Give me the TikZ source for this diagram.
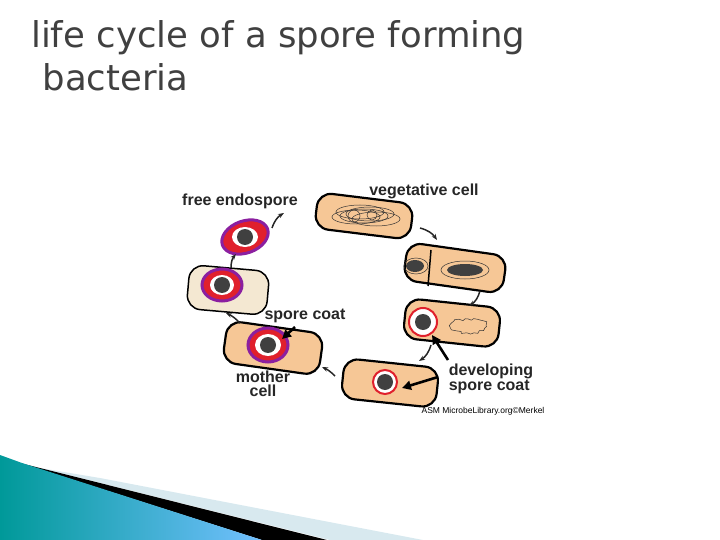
\documentclass[tikz,border=0pt]{standalone}
\usepackage{fontspec}
\setmainfont{DejaVu Sans}
\newfontfamily\lab{Liberation Sans}
\usetikzlibrary{arrows.meta,decorations.pathmorphing}
\begin{document}
\begin{tikzpicture}[x=1pt,y=-1pt,
  cellbox/.style={draw=black,line width=2.2pt,fill=tanc,rounded corners=14pt,minimum width=#1,minimum height=38pt,inner sep=0pt},
  lbl/.style={font=\lab\bfseries\fontsize{16}{14.5}\selectfont,text=black!85,align=left,inner sep=1pt},
  cyc/.style={-{Stealth[length=6pt]},line width=1.5pt,black!85},
  big/.style={-{Triangle[length=9pt,width=9pt]},line width=2.6pt,black},
  nuc/.style={draw=black!80,line width=0.5pt}]
\definecolor{tanc}{HTML}{F6C796}
\definecolor{palec}{HTML}{F4E8D2}
\definecolor{ttl}{HTML}{404040}
\definecolor{purp}{HTML}{8B1FA0}
\definecolor{redc}{HTML}{E0202C}
\definecolor{bandc}{HTML}{D8E9EF}
\useasboundingbox (0,0) rectangle (720,540);
% bottom decoration
\fill[bandc] (100,478) -- (423,540) -- (330,540) -- (40,468) -- cycle;
\fill[black] (40,468) -- (327,540) -- (262,540) -- (20,463) -- cycle;
\shade[left color=cyan!60!black,right color=cyan!55!blue!55] (0,455) -- (22,463) -- (262,540) -- (0,540) -- cycle;
% title
\node[anchor=north west,text=ttl,font=\fontsize{35.5}{43}\selectfont,align=left,inner sep=0pt] (title) at (31,20) {life cycle of a spore forming\\\ bacteria};
% vegetative cell
\node[cellbox=96pt,minimum height=36pt,rotate=-7] (c1) at (364,216) {};
\foreach \a/\b in {0/0,6/2,-8/-1,12/-3,-4/4}{\draw[nuc] ([xshift=\a pt,yshift=\b pt]c1.center) ellipse (24pt and 7pt);}
\draw[nuc] ([xshift=-10pt]c1.center) circle (6pt);
\draw[nuc] ([xshift=8pt,yshift=1pt]c1.center) circle (5pt);
% cell 2
\node[cellbox=100pt,rotate=-8] (c2) at (455,268) {};
\draw[line width=1.5pt] (431,250) -- (428,286);
\fill[black!75] (415,266) ellipse (9pt and 6pt);
\fill[black!75] (465,270) ellipse (18pt and 6pt);
\draw[nuc] (465,270) ellipse (24pt and 9pt);
\draw[nuc] (416,266) ellipse (12pt and 8pt);
% cell 3
\node[cellbox=95pt,minimum height=40pt,rotate=-6] (c3) at (452,323) {};
\filldraw[draw=redc,line width=2pt,fill=white] (423,322) circle (14pt);
\fill[black!75] (423,322) circle (8pt);
\draw[nuc,decorate,decoration={random steps,segment length=3pt,amplitude=1.5pt}] (468,326) ellipse (18pt and 7pt);
% cell 4
\node[cellbox=95pt,minimum height=40pt,rotate=-6] (c4) at (390,383) {};
\filldraw[draw=redc,line width=2pt,fill=white] (385,382) circle (12pt);
\fill[black!75] (385,382) circle (8pt);
% mother cell
\node[cellbox=97pt,minimum height=42pt,rotate=-8] (c5) at (273,348) {};
\filldraw[draw=purp,line width=3pt,fill=redc] (268,345) ellipse (20pt and 17pt);
\fill[white] (268,345) ellipse (13pt and 11pt);
\fill[black!75] (268,345) circle (8pt);
% pale cell
\node[cellbox=80pt,minimum height=44pt,fill=palec,rotate=-5,line width=1.5pt] (c6) at (228,290) {};
\filldraw[draw=purp,line width=3pt,fill=redc] (222,285) ellipse (20pt and 16pt);
\fill[white] (222,285) ellipse (12pt and 10pt);
\fill[black!75] (222,285) circle (8pt);
% free endospore
\filldraw[draw=purp,line width=3pt,fill=redc,rotate around={20:(245,237)}] (245,237) ellipse (24pt and 16pt);
\fill[white] (245,237) ellipse (13pt and 10pt);
\fill[black!75] (245,237) circle (8pt);
% labels
\node[lbl] (l1) at (424,191) {vegetative cell};
\node[lbl] (l2) at (240,201) {free endospore};
\node[lbl] (l3) at (305,316) {spore coat};
\node[lbl,align=center] (l4) at (263,384) {mother\\cell};
\node[lbl] (l5) at (491,379) {developing\\spore coat};
\node[font=\lab\fontsize{8.5}{9}\selectfont] (l6) at (483,411) {ASM MicrobeLibrary.org\textcopyright Merkel};
% cycle arrows
\coordinate (a1) at (420,228); \coordinate (b1) at (437,240);
\draw[cyc] (a1) to[bend left=20] (b1);
\coordinate (a2) at (480,291); \coordinate (b2) at (469,306);
\draw[cyc] (a2) to[bend left=20] (b2);
\coordinate (a3) at (431,345); \coordinate (b3) at (419,361);
\draw[cyc] (a3) to[bend left=20] (b3);
\coordinate (a4) at (335,376); \coordinate (b4) at (322,367);
\draw[cyc] (a4) to[bend right=10] (b4);
\coordinate (a5) at (240,323); \coordinate (b5) at (226,313);
\draw[cyc] (a5) to[bend right=10] (b5);
\coordinate (a6) at (231,268); \coordinate (b6) at (236,254);
\draw[cyc] (a6) to[bend left=20] (b6);
\coordinate (a7) at (272,228); \coordinate (b7) at (284,213);
\draw[cyc] (a7) to[bend left=20] (b7);
% pointer arrows
\coordinate (p1) at (295,327); \coordinate (q1) at (282,339);
\draw[big] (p1) -- (q1);
\coordinate (p2) at (448,360); \coordinate (q2) at (432,335);
\draw[big] (p2) -- (q2);
\coordinate (p3) at (438,377); \coordinate (q3) at (402,388);
\draw[big] (p3) -- (q3);
\end{tikzpicture}
\end{document}
